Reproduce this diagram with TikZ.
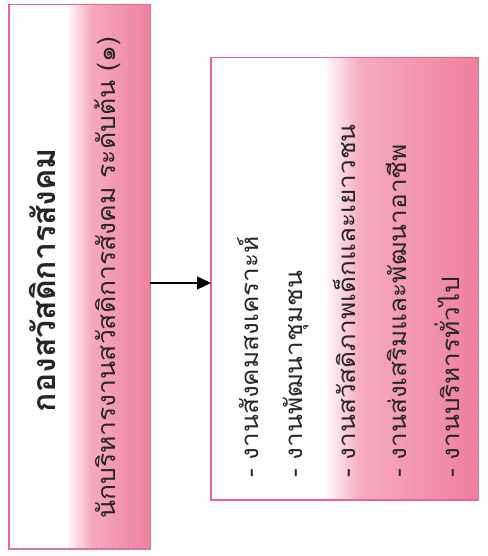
\documentclass[tikz,border=0pt]{standalone}
\usepackage{fontspec}
\newfontfamily\thaifont[Script=Thai]{Loma}
\usetikzlibrary{arrows.meta}
\definecolor{pinkc}{RGB}{246,170,192}
\definecolor{pinkd}{RGB}{238,128,158}
\definecolor{edgec}{RGB}{236,100,140}
\pgfdeclarehorizontalshading{leftshade}{100bp}{color(0bp)=(white); color(45bp)=(white); color(54bp)=(pinkc); color(75bp)=(pinkd); color(100bp)=(pinkd)}
\pgfdeclarehorizontalshading{rightshade}{100bp}{color(0bp)=(white); color(46bp)=(white); color(53bp)=(pinkc); color(75bp)=(pinkd); color(100bp)=(pinkd)}
\tikzset{
  boxfill/.style={minimum width=#1, inner sep=0pt, anchor=south west},
  boxline/.style={draw=edgec, line width=1.2pt},
  shadowedge/.style={draw=gray!70, line width=1.2pt, dotted},
  titletext/.style={font=\thaifont\bfseries\fontsize{32}{36}\selectfont, rotate=90, inner sep=0pt, text=black!85},
  subtext/.style={font=\thaifont\fontsize{25}{28}\selectfont, rotate=90, inner sep=0pt, text=black!85},
  itemtext/.style={font=\thaifont\fontsize{24}{27}\selectfont, rotate=90, inner sep=0pt, anchor=west, text=black!85},
  arrowline/.style={line width=1.3pt, -{Triangle[length=14pt,width=13pt]}}
}
\begin{document}
\begin{tikzpicture}[x=1pt,y=1pt]
\useasboundingbox (0,0) rectangle (487,556);
% left box
\node[boxfill=141pt, shading=leftshade, minimum height=544pt] (lbox) at (9,7) {};
\draw[boxline] (lbox.south west) rectangle (lbox.north east);
\draw[shadowedge] (lbox.north east) -- (lbox.south east) -- (lbox.south west);
% right box
\node[boxfill=267pt, shading=rightshade, minimum height=442pt] (rbox) at (211,56) {};
\draw[boxline] (rbox.south west) rectangle (rbox.north east);
\draw[shadowedge] (rbox.north east) -- (rbox.south east);
% texts
\node[titletext] (title) at (42,276) {กองสวัสดิการสังคม};
\node[subtext] (sub) at (108,278) {\scalebox{1.06}[1]{นักบริหารงานสวัสดิการสังคม ระดับต้น (๑)}};
\node[itemtext] (i1) at (248,78) {\scalebox{1.09}[1]{- งานสังคมสงเคราะห์}};
\node[itemtext] (i2) at (296,78) {\scalebox{1.09}[1]{- งานพัฒนาชุมชน}};
\node[itemtext] (i3) at (344,78) {\scalebox{1.09}[1]{- งานสวัสดิภาพเด็กและเยาวชน}};
\node[itemtext] (i4) at (396,78) {\scalebox{1.09}[1]{- งานส่งเสริมและพัฒนาอาชีพ}};
\node[itemtext] (i5) at (447,78) {\scalebox{1.09}[1]{- งานบริหารทั่วไป}};
% arrow
\coordinate (astart) at (lbox.east |- 0,273);
\coordinate (aend) at (rbox.west |- 0,273);
\draw[arrowline] (astart) -- (aend);
\end{tikzpicture}
\end{document}
